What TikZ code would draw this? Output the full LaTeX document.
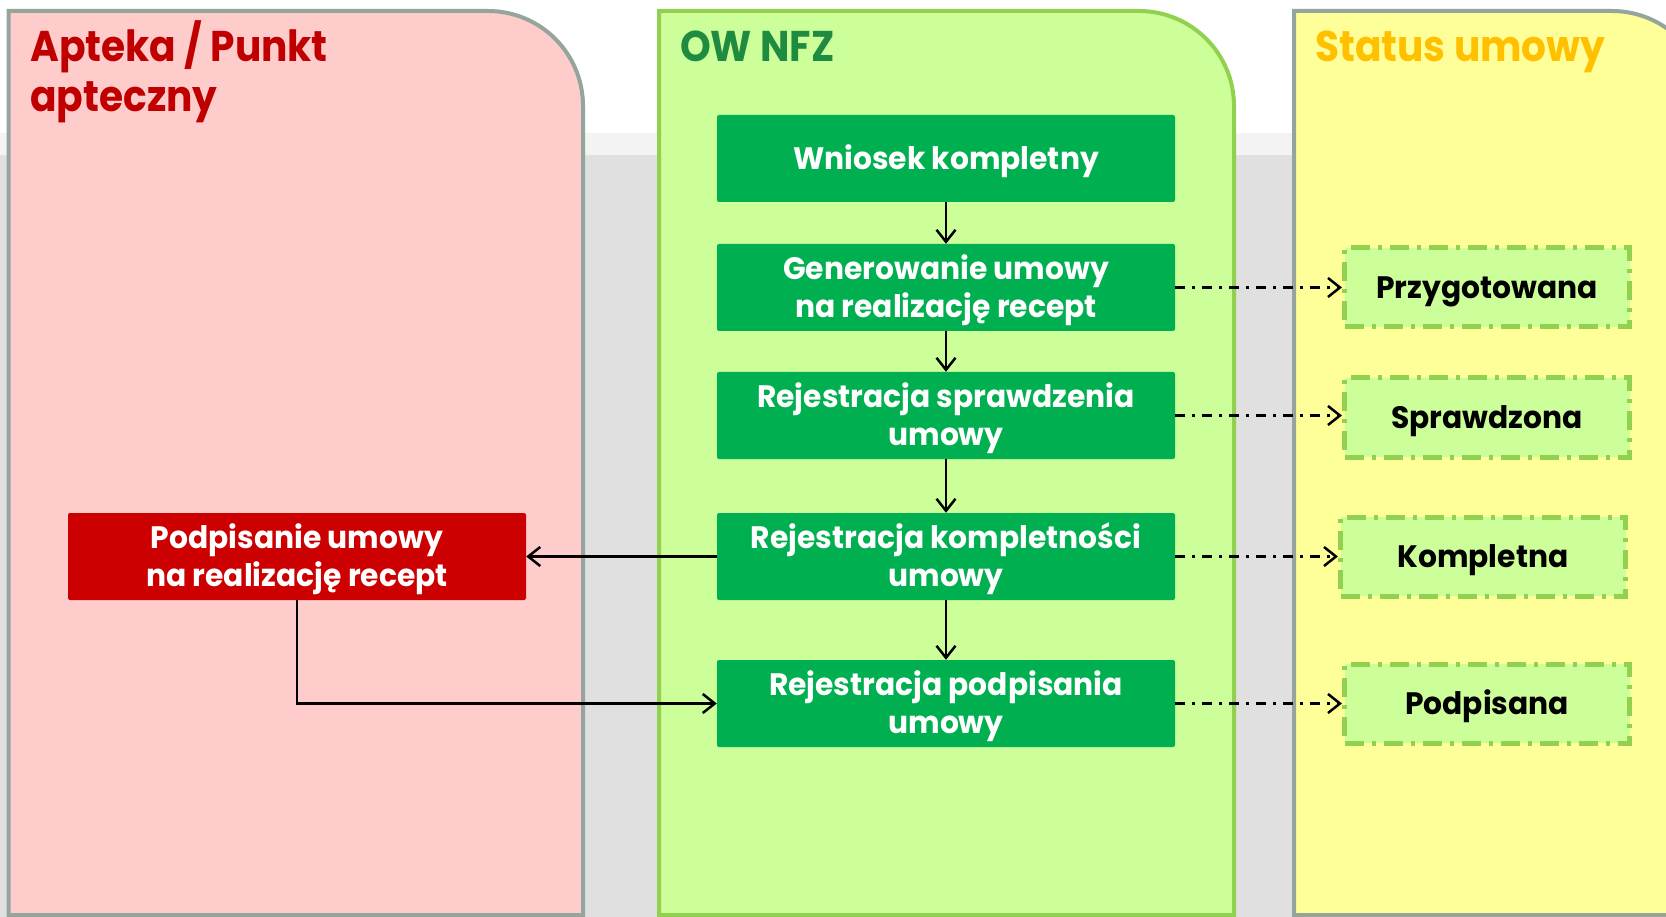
\documentclass[tikz,border=0pt]{standalone}
\usepackage{fontspec}
\setmainfont{Poppins}[FakeStretch=0.96]
\newfontfamily\titlefont{Poppins}[FakeStretch=0.91]
\usetikzlibrary{arrows.meta}

\definecolor{pinkfill}{HTML}{FFCCCC}
\definecolor{limefill}{HTML}{CCFF99}
\definecolor{yellowfill}{HTML}{FFFF99}
\definecolor{laneedge}{HTML}{95A59B}
\definecolor{limeedge}{HTML}{92D050}
\definecolor{stepgreen}{HTML}{00B050}
\definecolor{stepred}{HTML}{CC0000}
\definecolor{titlered}{HTML}{C00000}
\definecolor{titlegreen}{HTML}{1E8B40}
\definecolor{titleamber}{HTML}{FFC000}
\definecolor{bgband}{HTML}{F3F3F3}
\definecolor{bggray}{HTML}{E0E0E0}

% fixed top/bottom extents so every label sits at the same height in its box
\newcommand\topline{\rule{0pt}{31pt}}
\newcommand\botline{\rule[-9pt]{0pt}{0pt}}

\tikzset{
  lanetitle/.style={anchor=base west, inner sep=0pt, font=\titlefont\bfseries\fontsize{43}{50}\selectfont},
  stepbox/.style={fill=stepgreen, text=white, minimum width=458pt, minimum height=87pt,
    rounded corners=2pt, align=center, inner sep=0pt, font=\bfseries\fontsize{31}{38}\selectfont},
  redbox/.style={stepbox, fill=stepred},
  statusbox/.style={fill=limefill, draw=limeedge, line width=5pt,
    dash pattern=on 19pt off 8pt on 4pt off 8pt,
    minimum width=285pt, minimum height=79pt, inner sep=0pt,
    font=\bfseries\fontsize{31}{38}\selectfont},
  flow/.style={draw=black, line width=2.5pt, -{Straight Barb[length=12pt,width=19pt,line width=2.5pt]}},
  statusflow/.style={flow, dash pattern=on 10pt off 7pt on 3pt off 7pt},
}

\begin{document}
\begin{tikzpicture}[x=1pt,y=-1pt]
\useasboundingbox (0,0) rectangle (1666,917);
\clip (0,0) rectangle (1666,917);

% backdrop: white top, grey floor
\fill[white] (0,0) rectangle (1666,917);
\fill[bgband] (0,133) rectangle (1666,155);
\fill[bggray] (0,155) rectangle (1666,917);

% swimlanes
\draw[fill=pinkfill, draw=laneedge, line width=4pt]
  (8.5,915) -- (8.5,11) -- (488,11) arc[start angle=90,end angle=0,radius=95pt] -- (583,915) -- cycle;
\draw[fill=limefill, draw=limeedge, line width=4pt]
  (659,915) -- (659,11) -- (1139,11) arc[start angle=90,end angle=0,radius=95pt] -- (1234,915) -- cycle;
\draw[fill=yellowfill, draw=laneedge, line width=4pt]
  (1294,915) -- (1294,11) -- (1612,11) arc[start angle=90,end angle=0,radius=95pt] -- (1707,915) -- cycle;

% lane titles
\node[lanetitle, text=titlered] (t1a) at (30,62) {Apteka / Punkt};
\node[lanetitle, text=titlered] (t1b) at (30,112) {apteczny};
\node[lanetitle, text=titlegreen] (t2) at (680,62) {OW NFZ};
\node[lanetitle, text=titleamber] (t3) at (1315,62) {Status umowy};

% process steps
\node[stepbox] (b1) at (946,158.5) {\topline Wniosek kompletny\botline};
\node[stepbox] (b2) at (946,287.5) {\topline Generowanie umowy\\na realizację recept\botline};
\node[stepbox] (b3) at (946,415.5) {\topline Rejestracja sprawdzenia\\umowy\botline};
\node[stepbox] (b4) at (946,556.5) {\topline Rejestracja kompletności\\umowy\botline};
\node[stepbox] (b5) at (946,703.5) {\topline Rejestracja podpisania\\umowy\botline};
\node[redbox] (r1) at (297,556.5) {\topline Podpisanie umowy\\na realizację recept\botline};

% contract states
\node[statusbox] (s1) at (1487,287.5) {\topline Przygotowana\botline};
\node[statusbox] (s2) at (1487,417.5) {\topline Sprawdzona\botline};
\node[statusbox] (s3) at (1483,556.5) {\topline Kompletna\botline};
\node[statusbox] (s4) at (1487,703.5) {\topline Podpisana\botline};

% flow
\draw[flow] (b1) -- (b2);
\draw[flow] (b2) -- (b3);
\draw[flow] (b3) -- (b4);
\draw[flow] (b4) -- (b5);
\draw[flow] (b4.west) -- (r1.east);
\draw[flow] (r1.south) |- (b5.west);

% state changes
\draw[statusflow] (b2.east) -- (s1.west |- b2.east);
\draw[statusflow] (b3.east) -- (s2.west |- b3.east);
\draw[statusflow] (b4.east) -- (s3.west |- b4.east);
\draw[statusflow] (b5.east) -- (s4.west |- b5.east);
\end{tikzpicture}
\end{document}
